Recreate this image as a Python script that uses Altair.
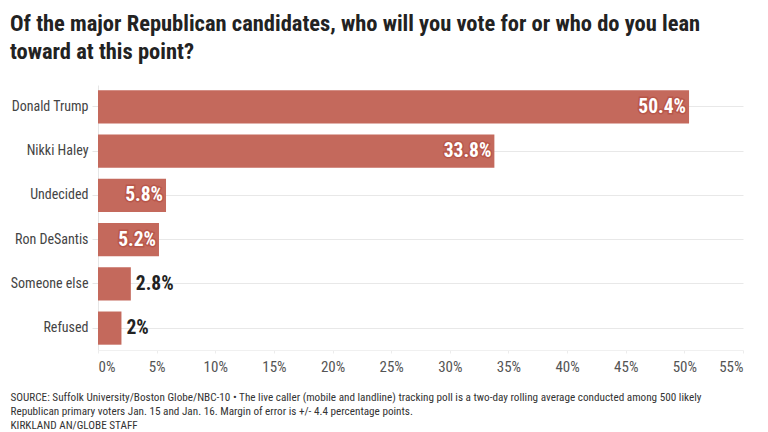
import altair as alt
import pandas as pd

candidates = ["Donald Trump", "Nikki Haley", "Undecided", "Ron DeSantis", "Someone else", "Refused"]
values = [50.4, 33.8, 5.8, 5.2, 2.8, 2.0]
labels = ["50.4%", "33.8%", "5.8%", "5.2%", "2.8%", "2%"]
inside = [True, True, True, True, False, False]

title_lines = ["Of the major Republican candidates, who will you vote for or who do you lean",
               "toward at this point?"]
footnote = ["SOURCE: Suffolk University/Boston Globe/NBC-10 \u2022 The live caller (mobile and landline) tracking poll is a two-day rolling average conducted among 500 likely",
            "Republican primary voters Jan. 15 and Jan. 16. Margin of error is +/- 4.4 percentage points.",
            "KIRKLAND AN/GLOBE STAFF"]

df = pd.DataFrame({"cand": candidates, "value": values, "label": labels, "inside": inside})

FONT = "Liberation Sans Narrow, Roboto Condensed, Roboto, sans-serif"
BAR = "#c4695c"

x = alt.X("value:Q", scale=alt.Scale(domain=[0, 55], nice=False),
          axis=alt.Axis(values=list(range(0, 56, 5)), labelExpr="datum.value + '%'",
                        grid=False, domain=True, domainColor="#f0f0f0", ticks=True,
                        tickColor="#ececec", tickSize=3, labelPadding=6,
                        labelFontSize=15, labelColor="#555", labelFont=FONT,
                        title=footnote, titleAnchor="start", titleAlign="left",
                        titleBaseline="top", titleX=-88, titleY=41,
                        titleFontSize=11.2, titleFontWeight="normal", titleColor="#333",
                        titleFont=FONT, titleLineHeight=14))
y = alt.Y("cand:N", sort=candidates, scale=alt.Scale(paddingInner=0.25, paddingOuter=0.12),
          axis=alt.Axis(title=None, grid=True, bandPosition=0.5, gridColor="#e8e8e8",
                        domain=True, domainColor="#e6e6e6", ticks=True, tickColor="#e6e6e6",
                        tickSize=6, tickBand="center", labelPadding=4, labelFontSize=14,
                        labelColor="#444", labelFont=FONT))

bars = alt.Chart(df).mark_bar(color=BAR).encode(x=x, y=y)

base_in = alt.Chart(df).transform_filter("datum.inside")
halo = base_in.mark_text(align="right", baseline="middle", dx=-3, fontSize=19.5, fontWeight="bold",
                         font=FONT, color="#b85649", stroke="#b85649", strokeWidth=3).encode(
    x="value:Q", y=alt.Y("cand:N", sort=candidates), text="label:N")
txt_in = base_in.mark_text(align="right", baseline="middle", dx=-3, fontSize=19.5, fontWeight="bold",
                           font=FONT, color="white").encode(
    x="value:Q", y=alt.Y("cand:N", sort=candidates), text="label:N")
txt_out = alt.Chart(df).transform_filter("!datum.inside").mark_text(
    align="left", baseline="middle", dx=5, fontSize=19.5, fontWeight="bold", font=FONT,
    color="#222").encode(x="value:Q", y=alt.Y("cand:N", sort=candidates), text="label:N")

chart = alt.layer(bars, halo, txt_in, txt_out).properties(
    width=645, height=265,
    autosize=alt.AutoSizeParams(type="none"),
    padding={"left": 90, "top": 77, "right": 15, "bottom": 82},
    title=alt.TitleParams(text=title_lines, anchor="start", frame="group", dx=-88,
                          fontSize=22.5, fontWeight="bold", font=FONT, color="#222",
                          lineHeight=28, offset=22),
).configure_view(stroke=None)

chart.save("out.html", embed_options={"renderer": "svg", "actions": False})
